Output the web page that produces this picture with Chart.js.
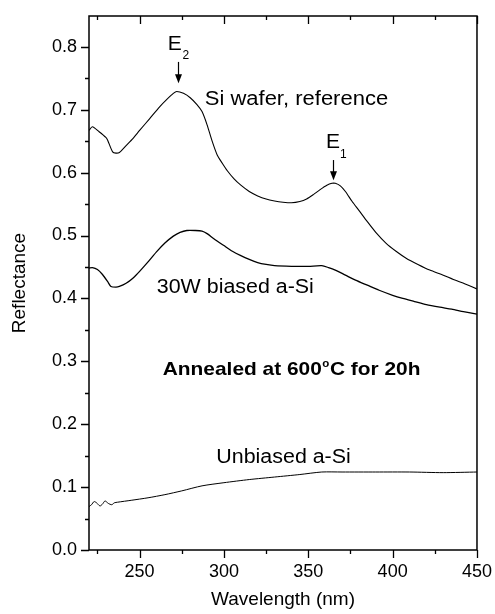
<!DOCTYPE html>
<html>
<head>
<meta charset="utf-8">
<script src="https://cdn.jsdelivr.net/npm/chart.js@4/dist/chart.umd.min.js"></script>
<style>
body{margin:0;background:#fff}
canvas{display:block}
</style>
</head>
<body>
<canvas id="chart" width="495" height="614"></canvas>
<script>
// reflectance spectra
const waferX=[220,222,226,230,231,234,236,238,242,246,250,256,262,266,270,272,276,280,284,287,290,293,296,299,302,306,310,315,320,325,330,335,340,345,349,353,357,361,364,366,369,372,376,380,385,390,396,402,408,415,422,430,436,443,450]
const waferY=[0.667,0.673,0.665,0.656,0.652,0.633,0.631,0.632,0.643,0.654,0.667,0.686,0.705,0.716,0.726,0.729,0.726,0.719,0.708,0.697,0.676,0.650,0.628,0.615,0.603,0.590,0.580,0.570,0.563,0.558,0.555,0.553,0.552,0.554,0.558,0.565,0.573,0.580,0.583,0.583,0.579,0.570,0.554,0.540,0.522,0.505,0.488,0.475,0.464,0.454,0.445,0.437,0.430,0.423,0.415]

const biasedX=[220,222,225,228,231,233,236,238,242,246,250,255,260,265,270,274,278,283,287,290,294,300,305,310,315,320,325,330,340,350,358,362,366,372,378,385,392,400,406,413,420,428,435,442,450]
const biasedY=[0.448,0.449,0.446,0.438,0.427,0.419,0.418,0.419,0.424,0.432,0.443,0.458,0.474,0.488,0.499,0.505,0.508,0.508,0.507,0.503,0.495,0.484,0.475,0.468,0.462,0.457,0.454,0.452,0.451,0.451,0.452,0.449,0.445,0.437,0.429,0.421,0.413,0.405,0.400,0.395,0.390,0.386,0.383,0.379,0.375]

const unbiasedX=[220,221.5,223,224.5,226.5,228,229.5,231.5,233.5,235,237,245,255,265,275,287,300,315,330,345,358,370,390,410,430,450]
const unbiasedY=[0.069,0.072,0.077,0.075,0.070,0.073,0.078,0.074,0.072,0.075,0.076,0.079,0.083,0.088,0.094,0.102,0.107,0.112,0.116,0.120,0.124,0.124,0.124,0.124,0.123,0.124]

const xMajor=[250,300,350,400,450]
const xMinor=[225,275,325,375,425]
const yMajor=[0,0.1,0.2,0.3,0.4,0.5,0.6,0.7,0.8]
const yMinor=[0.05,0.15,0.25,0.35,0.45,0.55,0.65,0.75]

const FONT="'Liberation Sans', Arial, Helvetica, sans-serif"

function pts(xs,ys){
return xs.map((x,i)=>({x:x,y:ys[i]}))
}

function line(xs,ys,w){
return {data:pts(xs,ys),borderColor:"#000",borderWidth:w,pointRadius:0,tension:0.25,fill:false}
}

function arrow(ctx,x,y0,y1){
ctx.beginPath()
ctx.moveTo(x,y0)
ctx.lineTo(x,y1-7)
ctx.lineWidth=1.2
ctx.stroke()
ctx.beginPath()
ctx.moveTo(x-3.5,y1-9)
ctx.lineTo(x+3.5,y1-9)
ctx.lineTo(x,y1)
ctx.closePath()
ctx.fill()
}

// the figure's lettering is a little wider than Liberation Sans
function wide(ctx,str,x,y,sx){
ctx.save()
ctx.translate(x,y)
ctx.scale(sx,1)
ctx.fillText(str,0,0)
const w=ctx.measureText(str).width*sx
ctx.restore()
return w
}

const frame={
id:"frame",
afterDraw(chart){
const {ctx,chartArea:a,scales:{x,y}}=chart
ctx.save()
ctx.strokeStyle="#000"
ctx.fillStyle="#000"
ctx.lineWidth=1.5
ctx.strokeRect(a.left,a.top,a.right-a.left,a.bottom-a.top)

ctx.lineWidth=1.3
ctx.beginPath()
xMajor.forEach(v=>{
const px=Math.round(x.getPixelForValue(v))+0.5
ctx.moveTo(px,a.bottom);ctx.lineTo(px,a.bottom+8)
ctx.moveTo(px,a.top);ctx.lineTo(px,a.top+8)
})
xMinor.forEach(v=>{
const px=Math.round(x.getPixelForValue(v))+0.5
ctx.moveTo(px,a.bottom);ctx.lineTo(px,a.bottom+4)
ctx.moveTo(px,a.top);ctx.lineTo(px,a.top+4)
})
yMajor.forEach(v=>{
const py=Math.round(y.getPixelForValue(v))+0.5
ctx.moveTo(a.left,py);ctx.lineTo(a.left-8,py)
})
yMinor.forEach(v=>{
const py=Math.round(y.getPixelForValue(v))+0.5
ctx.moveTo(a.left,py);ctx.lineTo(a.left-4,py)
})
ctx.stroke()

// annotations
const X=v=>x.getPixelForValue(v)
const Y=v=>y.getPixelForValue(v)
ctx.textBaseline="alphabetic"
ctx.textAlign="left"
ctx.font="20px "+FONT
wide(ctx,"E",X(266.7),Y(0.795),1.05)
wide(ctx,"E",X(360.5),Y(0.639),1.05)
ctx.font="12px "+FONT
ctx.fillText("2",X(275.5),Y(0.781))
ctx.fillText("1",X(368.8),Y(0.623))
arrow(ctx,Math.round(X(272.8))+0.5,Y(0.776),Y(0.742))
arrow(ctx,Math.round(X(364.8))+0.5,Y(0.620),Y(0.588))

ctx.font="20px "+FONT
wide(ctx,"Si wafer, reference",X(288.6),Y(0.7075),1.1)
wide(ctx,"30W biased a-Si",X(260.2),Y(0.4086),1.07)
wide(ctx,"Unbiased a-Si",X(295.5),Y(0.138),1.07)

ctx.font="bold 19px "+FONT
let tx=X(263.7)
const ty=Y(0.278)
tx+=wide(ctx,"Annealed at 600",tx,ty,1.1)
ctx.font="bold 11px "+FONT
tx+=wide(ctx,"o",tx+0.5,ty-8,1.05)+1
ctx.font="bold 19px "+FONT
wide(ctx,"C for 20h",tx,ty,1.1)
ctx.restore()
}
}

new Chart(document.getElementById("chart"),{
type:"line",
data:{datasets:[
line(waferX,waferY,1.1),
line(biasedX,biasedY,1.3),
line(unbiasedX,unbiasedY,1.0)
]},
options:{
responsive:false,
animation:false,
devicePixelRatio:1,
layout:{padding:{top:16,right:17,left:0,bottom:0}},
plugins:{legend:{display:false},tooltip:{enabled:false}},
scales:{
x:{
type:"linear",min:220,max:450,
afterBuildTicks:s=>{s.ticks=xMajor.map(v=>({value:v}))},
afterFit:s=>{s.height=64},
grid:{display:false,drawTicks:true,tickLength:8},
border:{display:false},
ticks:{color:"#000",font:{family:FONT,size:18},padding:3,maxRotation:0},
title:{display:true,text:"Wavelength (nm)",color:"#000",font:{family:FONT,size:19},padding:{bottom:3,top:0}}
},
y:{
type:"linear",min:0,max:0.849,
afterBuildTicks:s=>{s.ticks=yMajor.map(v=>({value:v}))},
afterFit:s=>{s.width=89},
grid:{display:false,drawTicks:true,tickLength:8},
border:{display:false},
ticks:{color:"#000",font:{family:FONT,size:18},padding:4,callback:v=>v.toFixed(1)},
title:{display:true,text:"Reflectance",color:"#000",font:{family:FONT,size:19},padding:{top:8,bottom:0}}
}
}
},
plugins:[frame]
})
</script>
</body>
</html>
